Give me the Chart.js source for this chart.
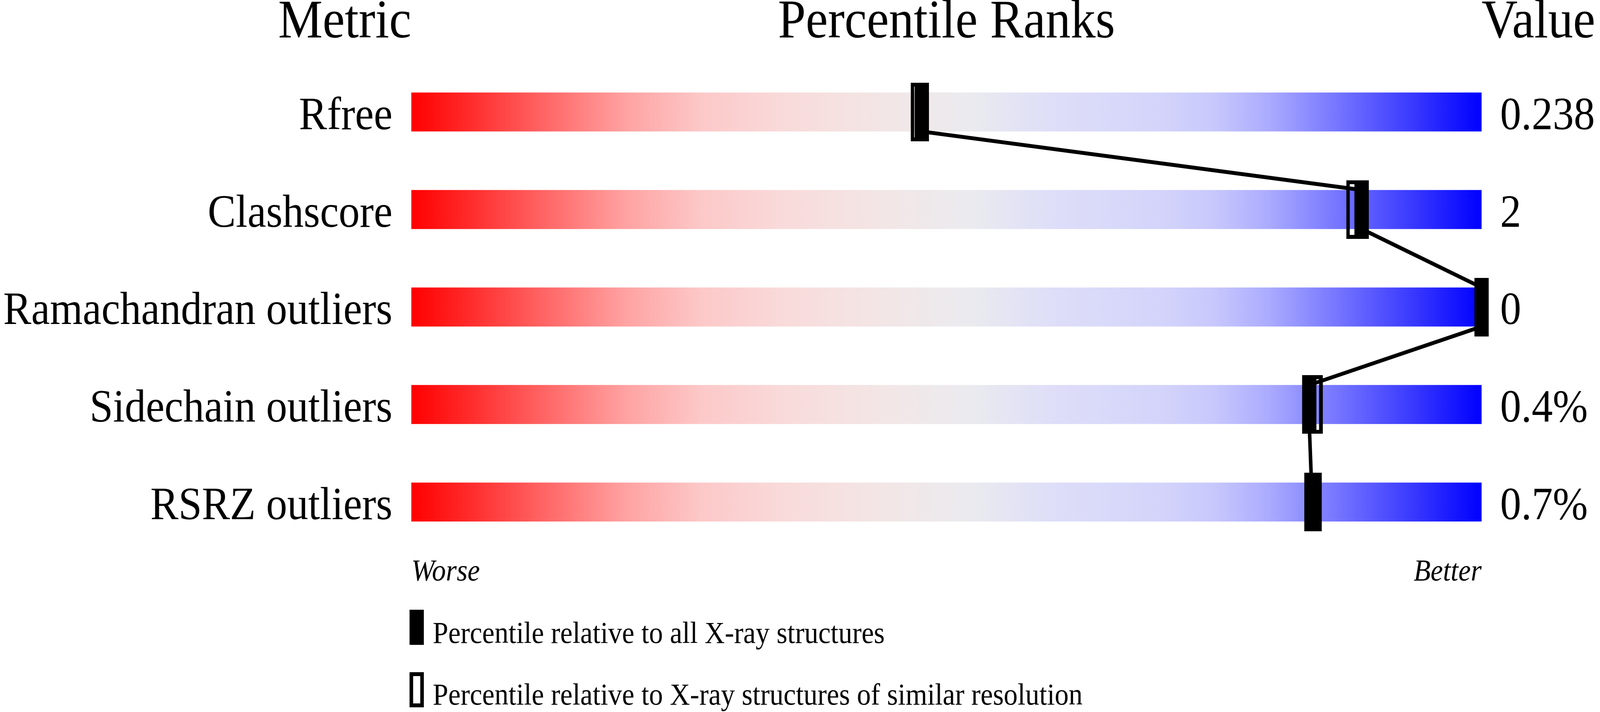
<!DOCTYPE html>
<html>
<head>
<meta charset="utf-8">
<script src="https://cdn.jsdelivr.net/npm/chart.js@4.4.1/dist/chart.umd.min.js"></script>
<style>
  html, body { margin: 0; padding: 0; background: #ffffff; overflow: hidden; }
  #c { display: block; width: 100vw; height: 100vh; }
</style>
</head>
<body>
<canvas id="c" width="4485" height="1824" style="width:100vw;height:100vh"></canvas>
<script>
// ---- data ----
const categories = ['Rfree', 'Clashscore', 'Ramachandran outliers', 'Sidechain outliers', 'RSRZ outliers'];
const valueLabels = ['0.238', '2', '0', '0.4%', '0.7%'];
const pctAllXray = [47.7, 88.8, 100, 83.9, 84.1];        // filled markers
const pctSimilarRes = [47.2, 87.9, 100, 84.6, 84.5];     // open markers
const percentileRange = [0, 100];
const columnHeaders = ['Metric', 'Percentile Ranks', 'Value'];
const scaleEnds = ['Worse', 'Better'];
const legendLabels = [
  'Percentile relative to all X-ray structures',
  'Percentile relative to X-ray structures of similar resolution'
];

// ---- styles ----
const SERIF = '"Liberation Serif", "Times New Roman", serif';
const BAR_FRACTION = 0.4;
const gradientStops = [
  [0.00, 'rgb(255,0,0)'], [0.06, 'rgb(255,48,48)'], [0.12, 'rgb(255,98,98)'],
  [0.20, 'rgb(255,162,162)'], [0.27, 'rgb(253,200,200)'], [0.35, 'rgb(249,219,219)'],
  [0.44, 'rgb(243,230,230)'], [0.52, 'rgb(235,235,239)'], [0.60, 'rgb(222,222,249)'],
  [0.70, 'rgb(212,212,251)'], [0.75, 'rgb(200,200,253)'], [0.80, 'rgb(172,172,255)'],
  [0.86, 'rgb(122,122,255)'], [0.93, 'rgb(62,62,255)'], [1.00, 'rgb(0,0,255)']
];

function makeMarker(w, h, open, border) {
  const c = document.createElement('canvas');
  c.width = w; c.height = h;
  const g = c.getContext('2d');
  if (open) { g.strokeStyle = '#000'; g.lineWidth = border; g.strokeRect(border / 2, border / 2, w - border, h - border); }
  else { g.fillStyle = '#000'; g.fillRect(0, 0, w, h); }
  return c;
}
const filledMarker = makeMarker(40, 150, false, 0);
const openMarker = makeMarker(33, 150, true, 10);
const filledLegend = makeMarker(40, 90, false, 0);
const openLegend = makeMarker(40, 90, true, 10);

const linePoints = [];
pctAllXray.forEach((p, i) => {
  linePoints.push({ x: p, y: i - BAR_FRACTION / 2 });
  linePoints.push({ x: p, y: i + BAR_FRACTION / 2 });
});

const textPlugin = {
  id: 'textPlugin',
  afterDraw(chart) {
    const ctx = chart.ctx, a = chart.chartArea;
    ctx.save();
    ctx.fillStyle = '#000'; ctx.textBaseline = 'alphabetic';
    ctx.font = '140px ' + SERIF;
    ctx.textAlign = 'right'; ctx.fillText(columnHeaders[0], a.left, 96);
    ctx.textAlign = 'center'; ctx.fillText(columnHeaders[1], (a.left + a.right) / 2, 96);
    ctx.textAlign = 'left'; ctx.fillText(columnHeaders[2], a.right, 96);
    ctx.drawImage(filledLegend, a.left - 5, 1562);
    ctx.drawImage(openLegend, a.left - 5, 1722);
    ctx.font = '78px ' + SERIF; ctx.textAlign = 'left';
    ctx.fillText(legendLabels[0], a.left + 60, 1647);
    ctx.fillText(legendLabels[1], a.left + 60, 1805);
    ctx.restore();
  }
};

new Chart(document.getElementById('c'), {
  type: 'bar',
  data: {
    labels: categories,
    datasets: [
      { type: 'line', label: 'all', indexAxis: 'y', data: pctAllXray.map((p, i) => ({ x: p, y: i })),
        xAxisID: 'x', yAxisID: 'yL', showLine: false, pointStyle: filledMarker, pointRadius: 1, pointHoverRadius: 1,
        clip: false, order: 0 },
      { type: 'line', label: 'link', indexAxis: 'y', data: linePoints, xAxisID: 'x', yAxisID: 'yL',
        borderColor: '#000', borderWidth: 10, pointRadius: 0, tension: 0, fill: false, clip: false, order: 1 },
      { type: 'line', label: 'similar', indexAxis: 'y', data: pctSimilarRes.map((p, i) => ({ x: p, y: i })),
        xAxisID: 'x', yAxisID: 'yL', showLine: false, pointStyle: openMarker, pointRadius: 1, pointHoverRadius: 1,
        clip: false, order: 2 },
      { type: 'bar', label: 'range', grouped: false,
        data: categories.map(() => [percentileRange[0], percentileRange[1]]),
        xAxisID: 'x', yAxisID: 'y', categoryPercentage: 1, barPercentage: BAR_FRACTION,
        borderWidth: 0, borderSkipped: false,
        backgroundColor(ctx) {
          const chart = ctx.chart;
          if (!chart.chartArea) return 'rgb(236,236,238)';
          const xs = chart.scales.x;
          const g = chart.ctx.createLinearGradient(xs.getPixelForValue(percentileRange[0]), 0,
                                                   xs.getPixelForValue(percentileRange[1]), 0);
          gradientStops.forEach(s => g.addColorStop(s[0], s[1]));
          return g;
        },
        order: 3 }
    ]
  },
  options: {
    indexAxis: 'y',
    responsive: false,
    devicePixelRatio: 1,
    animation: false,
    events: [],
    layout: { padding: { top: 162, left: 0, right: 0, bottom: 0 } },
    plugins: { legend: { display: false }, tooltip: { enabled: false }, title: { display: false } },
    scales: {
      x: { type: 'linear', position: 'bottom', offset: false, min: percentileRange[0], max: percentileRange[1],
        grid: { display: false, drawTicks: false }, border: { display: false },
        afterBuildTicks(scale) { scale.ticks = [{ value: percentileRange[0] }, { value: percentileRange[1] }]; },
        afterFit(scale) { scale.height = 413; },
        ticks: { autoSkip: false, maxRotation: 0, minRotation: 0, align: 'inner', padding: 9, color: '#000',
          font: { family: SERIF, size: 78, style: 'italic' },
          callback(v) { return v === percentileRange[0] ? scaleEnds[0] : scaleEnds[1]; } } },
      y: { type: 'category', position: 'left', offset: true,
        grid: { display: false, drawTicks: false }, border: { display: false },
        afterFit(scale) { scale.width = 1153; },
        ticks: { padding: 53, crossAlign: 'near', labelOffset: 13, color: '#000', font: { family: SERIF, size: 118 } } },
      yR: { type: 'category', position: 'right', offset: true, labels: valueLabels, display: true,
        grid: { display: false, drawTicks: false }, border: { display: false },
        afterFit(scale) { scale.width = 332; },
        ticks: { padding: 52, crossAlign: 'near', labelOffset: 13, color: '#000', font: { family: SERIF, size: 118 } } },
      yL: { type: 'linear', display: false, reverse: true, offset: false, grace: 0,
        min: -0.5, max: categories.length - 0.5 }
    }
  },
  plugins: [textPlugin]
});
</script>
</body>
</html>
